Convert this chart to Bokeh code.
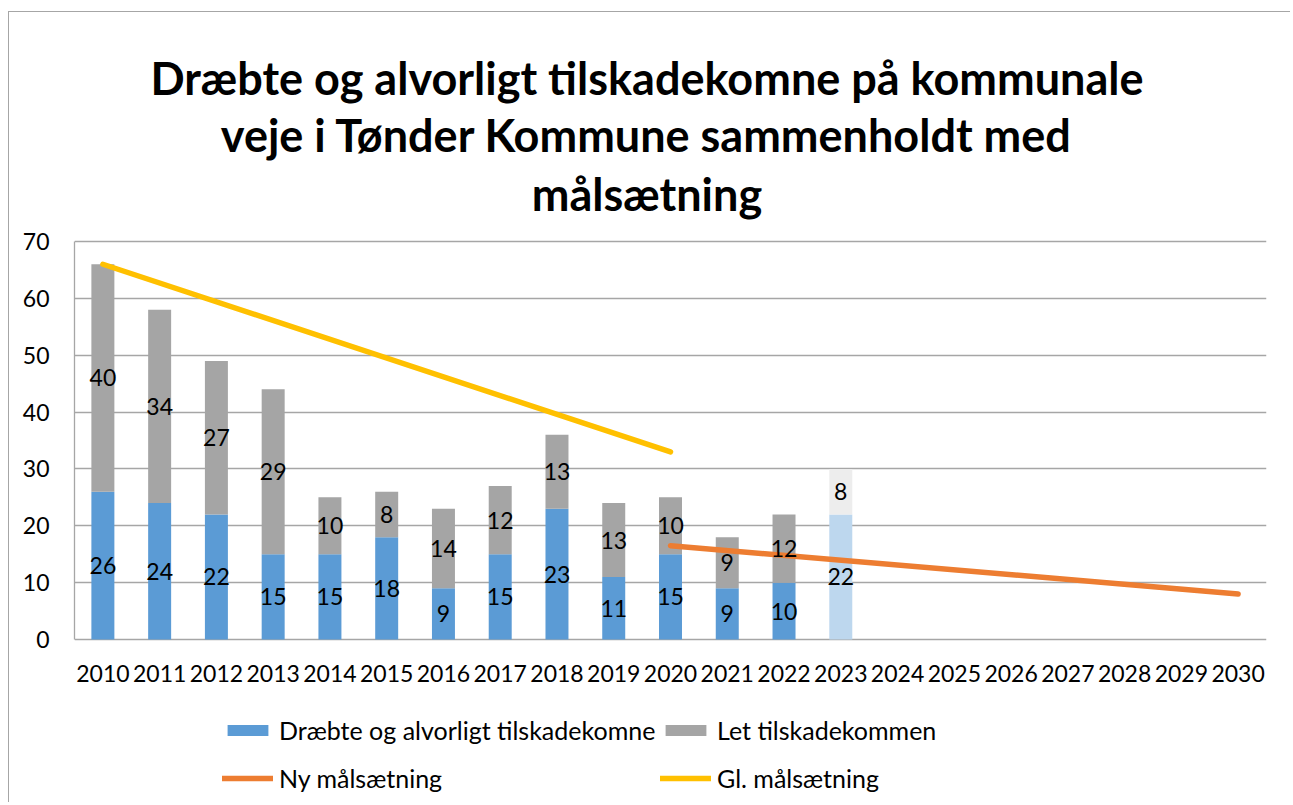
from bokeh.plotting import figure
from bokeh.models import (ColumnDataSource, FactorRange, Range1d, Legend, LegendItem,
                          FixedTicker, Grid)
from bokeh.core.properties import value
from bokeh.embed import file_html
from bokeh.resources import INLINE

# ---------------- data ----------------
all_years = ["2010", "2011", "2012", "2013", "2014", "2015", "2016", "2017", "2018", "2019",
             "2020", "2021", "2022", "2023", "2024", "2025", "2026", "2027", "2028", "2029", "2030"]
bar_years = ["2010", "2011", "2012", "2013", "2014", "2015", "2016", "2017", "2018", "2019",
             "2020", "2021", "2022", "2023"]
killed_serious = [26, 24, 22, 15, 15, 18, 9, 15, 23, 11, 15, 9, 10, 22]
light_injured = [40, 34, 27, 29, 10, 8, 14, 12, 13, 13, 10, 9, 12, 8]
preliminary_year = "2023"

new_goal_years = ["2020", "2030"]
new_goal_values = [16.5, 8]
old_goal_years = ["2010", "2020"]
old_goal_values = [66, 33]

y_ticks = [0, 10, 20, 30, 40, 50, 60, 70]

title_lines = ["Dræbte og alvorligt tilskadekomne på kommunale",
               "veje i Tønder Kommune sammenholdt med",
               "målsætning"]
label_killed = "Dræbte og alvorligt tilskadekomne"
label_light = "Let tilskadekommen"
label_new = "Ny målsætning"
label_old = "Gl. målsætning"

# ---------------- styling / geometry (canvas pixels) ----------------
FONT = "Lato"
BLUE, BLUE_LIGHT = "#5b9bd5", "#bdd7ee"
GRAY, GRAY_LIGHT = "#a5a5a5", "#ededed"
ORANGE, YELLOW = "#ed7d31", "#ffc000"
GRID = "#a6a6a6"

W, H = 1282, 791
FRAME_L, FRAME_R = 65, 25
AXIS_TOP_PX, AXIS_BOTTOM_PX = 229, 627     # canvas y of value 70 and value 0
Y_MAX = 70
ppu = (AXIS_BOTTOM_PX - AXIS_TOP_PX) / Y_MAX
y_hi = Y_MAX + AXIS_TOP_PX / ppu
y_lo = -(H - AXIS_BOTTOM_PX) / ppu
frame_w = W - FRAME_L - FRAME_R
TITLE_CENTER_PX = 637.5
TITLE_BASELINES_PX = [65, 122, 181]
title_x = (TITLE_CENTER_PX - FRAME_L) / frame_w * len(all_years)
title_y = [Y_MAX + (AXIS_TOP_PX - b) / ppu for b in TITLE_BASELINES_PX]

tops = [k + l for k, l in zip(killed_serious, light_injured)]
src = ColumnDataSource(dict(
    year=bar_years,
    killed=killed_serious,
    top=tops,
    c_blue=[BLUE_LIGHT if y == preliminary_year else BLUE for y in bar_years],
    c_gray=[GRAY_LIGHT if y == preliminary_year else GRAY for y in bar_years],
))

p = figure(x_range=FactorRange(factors=all_years, range_padding=0),
           y_range=Range1d(y_lo, y_hi),
           x_axis_location=None, title=None,
           width=W, height=H, output_backend="svg", toolbar_location=None,
           min_border_left=FRAME_L, min_border_right=FRAME_R,
           min_border_top=0, min_border_bottom=0)
p.styles = {"margin-left": "8px", "margin-top": "11px",
            "border-left": "1px solid #a6a6a6", "border-top": "1px solid #a6a6a6"}

p.outline_line_color = None
for g in p.select(type=Grid):
    if g.dimension == 0:
        g.grid_line_color = None
p.ygrid.grid_line_color = GRID
p.ygrid.grid_line_width = 1.3
p.yaxis.ticker = FixedTicker(ticks=y_ticks)
p.yaxis.bounds = (0, Y_MAX)
p.yaxis.axis_line_color = GRID
p.yaxis.axis_line_width = 1.3
p.yaxis.major_tick_line_color = None
p.yaxis.minor_tick_line_color = None
p.yaxis.major_tick_out = 0
p.yaxis.major_tick_in = 0
p.yaxis.major_label_standoff = 25
p.yaxis.major_label_text_font = FONT
p.yaxis.major_label_text_font_size = "23px"
p.yaxis.major_label_text_color = "black"

# title
p.text(x=[title_x] * len(title_lines), y=title_y, text=title_lines,
       text_align="center", text_baseline="alphabetic",
       text_font=value(FONT), text_font_size="45px", text_font_style="bold",
       text_color="black")

r_blue = p.vbar(x="year", bottom=0, top="killed", width=0.405, fill_color="c_blue",
                line_color=None, source=src)
r_gray = p.vbar(x="year", bottom="killed", top="top", width=0.405, fill_color="c_gray",
                line_color=None, source=src)

r_old = p.line(x=old_goal_years, y=old_goal_values, line_color=YELLOW, line_width=5.5,
               line_cap="round")
r_new = p.line(x=new_goal_years, y=new_goal_values, line_color=ORANGE, line_width=5.5,
               line_cap="round")

# category labels under the zero line
p.text(x=all_years, y=[0] * len(all_years), text=all_years, y_offset=34,
       text_align="center", text_baseline="middle",
       text_font=value(FONT), text_font_size="23px", text_color="black")

# data labels
lab_x = bar_years + bar_years
lab_y = [k / 2 for k in killed_serious] + [k + l / 2 for k, l in zip(killed_serious, light_injured)]
lab_t = [str(v) for v in killed_serious] + [str(v) for v in light_injured]
p.text(x=lab_x, y=lab_y, text=lab_t, text_align="center", text_baseline="middle",
       text_font=value(FONT), text_font_size="23px", text_color="black")

def make_legend(items, loc):
    return Legend(items=items, location=loc, orientation="vertical",
                  border_line_color=None, background_fill_alpha=0,
                  padding=0, margin=0, glyph_width=51, glyph_height=14,
                  label_height=30, label_standoff=6, spacing=18,
                  label_text_font=FONT, label_text_font_size="25px",
                  label_text_color="black")

leg1 = make_legend([LegendItem(label=label_killed, renderers=[r_blue]),
                    LegendItem(label=label_new, renderers=[r_new])], (148, 10))
leg2 = make_legend([LegendItem(label=label_light, renderers=[r_gray]),
                    LegendItem(label=label_old, renderers=[r_old])], (586, 10))
p.add_layout(leg1, "center")
p.add_layout(leg2, "center")

open("out.html", "w").write(file_html(p, INLINE))
